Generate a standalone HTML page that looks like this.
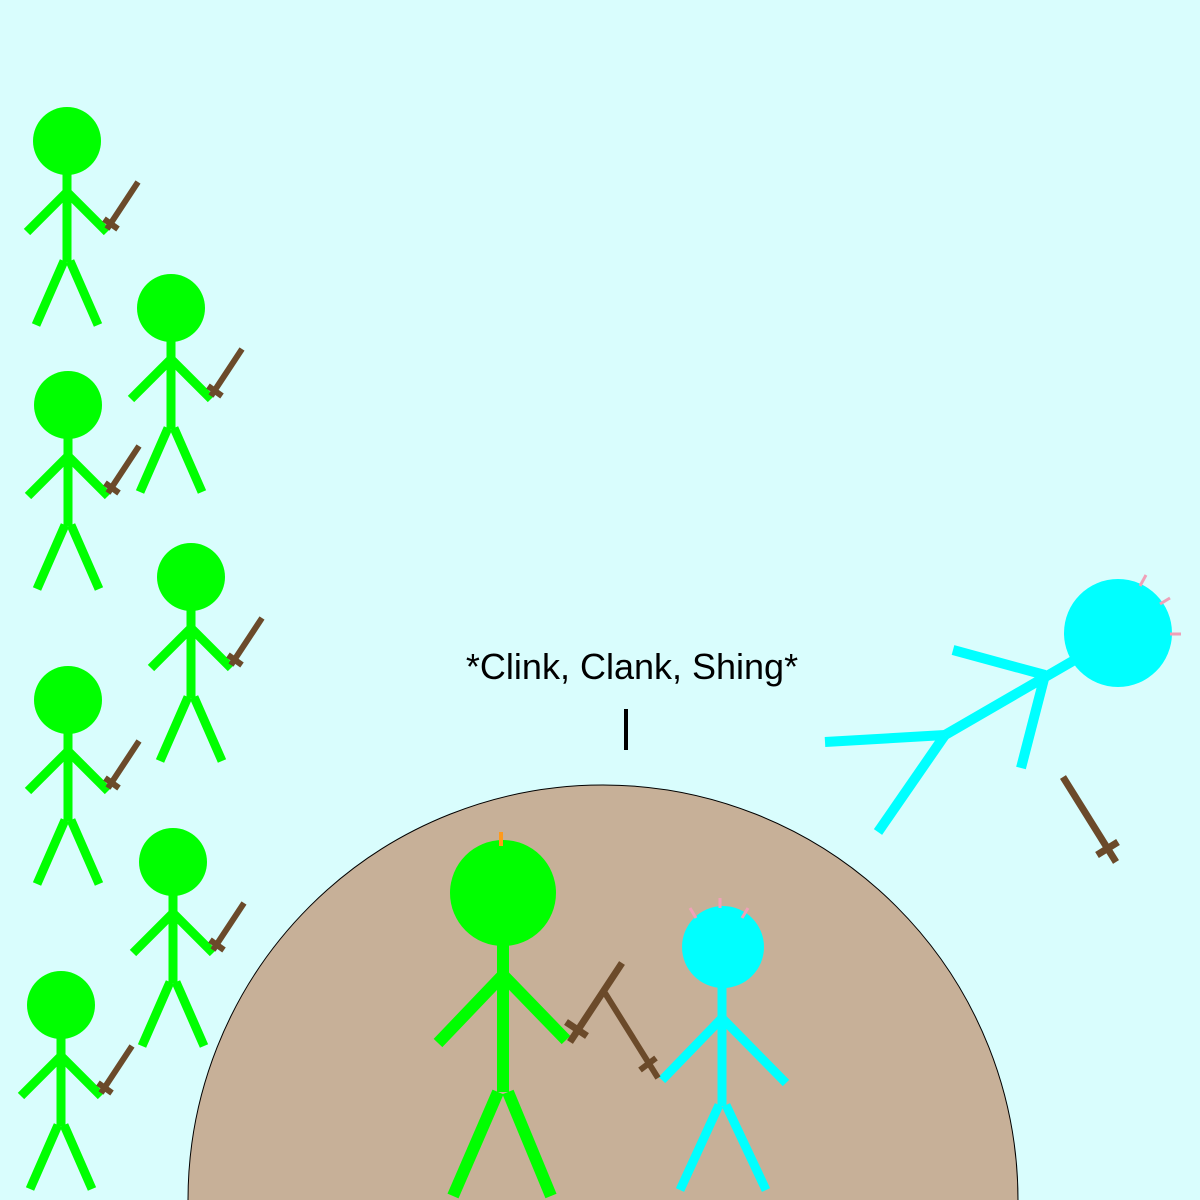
<!DOCTYPE html>
<html><head><meta charset="utf-8"><style>
html,body{margin:0;padding:0;background:#d9fdfd;width:1200px;height:1200px;overflow:hidden;}
svg{display:block}
</style></head><body>
<svg width="1200" height="1200" viewBox="0 0 1200 1200" xmlns="http://www.w3.org/2000/svg">
<defs>
<g id="gfig">
  <circle cx="0" cy="0" r="34" fill="#00ff00"/>
  <g stroke="#00ff00" stroke-width="9" fill="none">
    <line x1="0" y1="30" x2="0" y2="121"/>
    <line x1="0" y1="51" x2="-40" y2="91"/>
    <line x1="0" y1="51" x2="40" y2="91"/>
    <line x1="-3" y1="120" x2="-31" y2="184"/>
    <line x1="3" y1="120" x2="31" y2="184"/>
  </g>
  <g stroke="#6b4a2a" stroke-width="6">
    <line x1="40" y1="88" x2="71" y2="41"/>
    <line x1="37" y1="78" x2="51" y2="88"/>
  </g>
</g>
</defs>
<rect width="1200" height="1200" fill="#d9fdfd"/>
<path d="M188,1200 A415,415 0 0 1 1018,1200 Z" fill="#c7b098"/>
<path d="M188,1200 A415,415 0 0 1 1018,1200" fill="none" stroke="#000" stroke-width="1"/>

<use href="#gfig" x="67" y="141"/>
<use href="#gfig" x="171" y="308"/>
<use href="#gfig" x="68" y="405"/>
<use href="#gfig" x="191" y="577"/>
<use href="#gfig" x="68" y="700"/>
<use href="#gfig" x="173" y="862"/>
<use href="#gfig" x="61" y="1005"/>

<g>
  <circle cx="503" cy="893" r="53" fill="#00ff00"/>
  <g stroke="#00ff00" stroke-width="12" fill="none">
    <line x1="503" y1="940" x2="503" y2="1092"/>
    <line x1="503" y1="975" x2="438" y2="1043"/>
    <line x1="503" y1="975" x2="566" y2="1040"/>
    <line x1="498" y1="1092" x2="453" y2="1196"/>
    <line x1="508" y1="1092" x2="551" y2="1196"/>
  </g>
  <g stroke="#6b4a2a" stroke-width="7">
    <line x1="570" y1="1042" x2="622" y2="963"/>
    <line x1="566" y1="1022" x2="587" y2="1036"/>
  </g>
  <line x1="501" y1="832" x2="501" y2="846" stroke="#ff9a1a" stroke-width="4"/>
</g>

<g>
  <circle cx="723" cy="947" r="41" fill="#00ffff"/>
  <g stroke="#00ffff" stroke-width="9" fill="none">
    <line x1="722" y1="985" x2="722" y2="1106"/>
    <line x1="722" y1="1018" x2="662" y2="1080"/>
    <line x1="722" y1="1018" x2="786" y2="1083"/>
    <line x1="719" y1="1105" x2="680" y2="1190"/>
    <line x1="726" y1="1105" x2="766" y2="1190"/>
  </g>
  <g stroke="#6b4a2a" stroke-width="6">
    <line x1="605" y1="993" x2="658" y2="1078"/>
    <line x1="640" y1="1070" x2="656" y2="1058"/>
  </g>
  <g stroke="#f0a0b8" stroke-width="3">
    <line x1="690" y1="908" x2="696" y2="918"/>
    <line x1="720" y1="898" x2="720" y2="908"/>
    <line x1="748" y1="908" x2="742" y2="918"/>
  </g>
</g>

<g>
  <circle cx="1118" cy="633" r="54" fill="#00ffff"/>
  <g stroke="#00ffff" stroke-width="10" fill="none">
    <line x1="1078" y1="658" x2="945" y2="735"/>
    <line x1="1045" y1="675" x2="953" y2="650"/>
    <line x1="1045" y1="675" x2="1021" y2="768"/>
    <line x1="945" y1="735" x2="825" y2="742"/>
    <line x1="945" y1="735" x2="878" y2="832"/>
  </g>
  <g stroke="#f0a0b8" stroke-width="3">
    <line x1="1140" y1="586" x2="1146" y2="575"/>
    <line x1="1160" y1="604" x2="1170" y2="598"/>
    <line x1="1170" y1="634" x2="1181" y2="634"/>
  </g>
</g>

<g stroke="#6b4a2a" stroke-width="7">
  <line x1="1063" y1="777" x2="1116" y2="862"/>
  <line x1="1097" y1="855" x2="1118" y2="842"/>
</g>

<text x="632" y="679" text-anchor="middle" font-family="Liberation Sans, sans-serif" font-size="36" fill="#000">*Clink, Clank, Shing*</text>
<line x1="626" y1="709" x2="626" y2="750" stroke="#000" stroke-width="4"/>
</svg>
</body></html>
